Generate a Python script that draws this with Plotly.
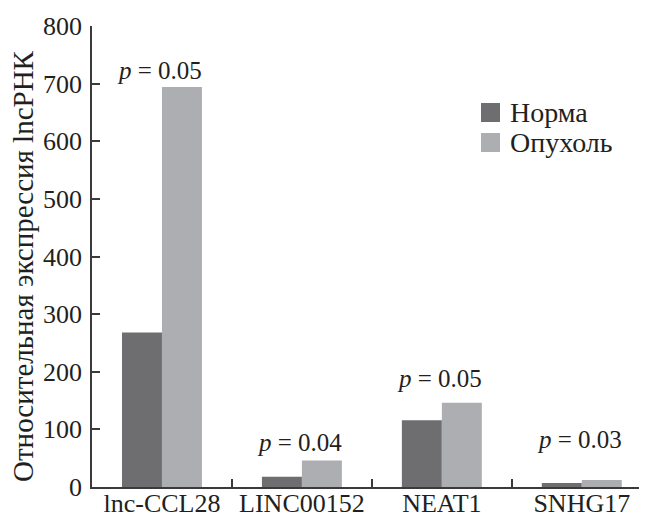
import plotly.graph_objects as go

categories = ["lnc-CCL28", "LINC00152", "NEAT1", "SNHG17"]
norma = [268, 18, 116, 7]
opuhol = [694, 46, 146, 12]
p_labels = ["0.05", "0.04", "0.05", "0.03"]
p_label_y = [722, 78, 188, 82]
y_ticks = [0, 100, 200, 300, 400, 500, 600, 700, 800]

series_names = ["Норма", "Опухоль"]
colors = ["#6e6e70", "#adaeb1"]
FONT = "Liberation Serif"
TXT = "#231f20"

OFF = 8
W, H = 647 - OFF, 517 - OFF
ML, MR, MT, MB = 92 - OFF, 0, 26 - OFF, 30
pw = W - ML - MR
ph = H - MT - MB

fig = go.Figure()
for name, vals, col in zip(series_names, [norma, opuhol], colors):
    fig.add_trace(go.Bar(x=categories, y=vals, name=name, marker_color=col,
                         marker_line_width=0, showlegend=False))

for cat, lab, yy in zip(categories, p_labels, p_label_y):
    fig.add_annotation(x=cat, y=yy, xref="x", yref="y", text="<i>p</i> = " + lab,
                       showarrow=False, font=dict(family=FONT, size=25, color=TXT),
                       xanchor="center", yanchor="middle", xshift=-2)

def px2x(px):
    return (px - OFF - ML) / pw
def py2y(py):
    return 1 - (py - OFF - MT) / ph

leg_y = [112.5, 142.5]
for name, col, cy in zip(series_names, colors, leg_y):
    fig.add_shape(type="rect", xref="paper", yref="paper",
                  x0=px2x(481), x1=px2x(500), y0=py2y(cy - 9.5), y1=py2y(cy + 9.5),
                  fillcolor=col, line_width=0)
    fig.add_annotation(xref="paper", yref="paper", x=px2x(508), y=py2y(cy),
                       text=name, showarrow=False, xanchor="left", yanchor="middle",
                       font=dict(family=FONT, size=28, color=TXT))

fig.add_annotation(xref="paper", yref="paper", x=px2x(23), y=py2y(266),
                   text="Относительная экспрессия lncРНК", textangle=-90,
                   showarrow=False, xanchor="center", yanchor="middle",
                   font=dict(family=FONT, size=29, color=TXT))

fig.update_layout(
    width=W, height=H,
    margin=dict(l=ML, r=MR, t=MT, b=MB),
    paper_bgcolor="white", plot_bgcolor="white",
    barmode="group", bargap=0.4286, bargroupgap=0,
    font=dict(family=FONT, size=26, color=TXT),
    showlegend=False,
)
fig.update_xaxes(range=[-0.5, 3.466], showline=True, linecolor="#3a3a3a", linewidth=1.5,
                 ticks="inside", tickson="boundaries", ticklen=8, tickcolor="#3a3a3a",
                 tickwidth=1.5, showgrid=False, zeroline=False, ticklabelstandoff=-8,
                 tickangle=0,
                 tickfont=dict(family=FONT, size=26, color=TXT), automargin=False)
fig.update_yaxes(range=[0, 800], tickvals=y_ticks, showline=True, linecolor="#3a3a3a",
                 linewidth=1.5, ticks="inside", ticklen=8, tickcolor="#3a3a3a",
                 tickwidth=1.5, showgrid=False, zeroline=False, ticklabelstandoff=3,
                 tickfont=dict(family=FONT, size=26, color=TXT), automargin=False)

fig.write_html("out.html")
